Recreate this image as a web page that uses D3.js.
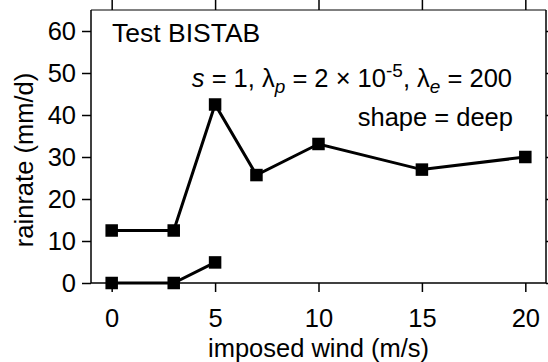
<!DOCTYPE html>
<html>
<head>
<meta charset="utf-8">
<script src="https://cdn.jsdelivr.net/npm/d3@7"></script>
<style>
  html, body { margin: 0; padding: 0; background: #fff; }
  svg { display: block; font-family: "Liberation Sans", Arial, Helvetica, sans-serif; }
</style>
</head>
<body>
<svg id="chart" width="548" height="362"></svg>
<script>
// Rain rate vs imposed wind, two branches of the BISTAB test
const windUpper = [0, 3, 5, 7, 10, 15, 20];
const rainUpper = [12.5, 12.5, 42.5, 25.7, 33.1, 27.0, 30.0];
const windLower = [0, 3, 5];
const rainLower = [0, 0, 4.9];
const xTicks = [0, 5, 10, 15, 20];
const yTicks = [0, 10, 20, 30, 40, 50, 60];

const plot = { left: 91, right: 546, top: 10, bottom: 283 };
const fontSize = 25.5;
const fontFamily = '"Liberation Sans", Arial, Helvetica, sans-serif';

const svg = d3.select("#chart");

const x = d3.scaleLinear().domain([-1, 21]).range([plot.left, plot.right]);
const y = d3.scaleLinear().domain([0, 65]).range([plot.bottom, plot.top]);

// Frame
svg.append("line").attr("x1", plot.left).attr("x2", plot.right)
  .attr("y1", plot.top).attr("y2", plot.top)
  .attr("stroke", "#000").attr("stroke-width", 1);
svg.append("line").attr("x1", plot.right).attr("x2", plot.right)
  .attr("y1", plot.top).attr("y2", plot.bottom)
  .attr("stroke", "#000").attr("stroke-width", 1.5);
svg.append("line").attr("x1", plot.left).attr("x2", plot.left)
  .attr("y1", plot.top).attr("y2", plot.bottom)
  .attr("stroke", "#000").attr("stroke-width", 1.5);
svg.append("line").attr("x1", plot.left).attr("x2", plot.right)
  .attr("y1", plot.bottom).attr("y2", plot.bottom)
  .attr("stroke", "#000").attr("stroke-width", 1.5);

function styleAxis(g) {
  g.select(".domain").remove();
  g.selectAll(".tick line").attr("stroke", "#000").attr("stroke-width", 1.5);
  g.selectAll(".tick text").attr("fill", "#000")
    .style("font-size", fontSize + "px")
    .style("font-family", fontFamily);
}

// Bottom axis
svg.append("g").attr("transform", `translate(0,${plot.bottom})`)
  .call(d3.axisBottom(x).tickValues(xTicks).tickSize(9).tickPadding(17).tickSizeOuter(0))
  .call(styleAxis);

// Top ticks, outward
svg.append("g").attr("transform", `translate(0,${plot.top})`)
  .call(d3.axisTop(x).tickValues(xTicks).tickSize(10).tickFormat("").tickSizeOuter(0))
  .call(styleAxis);

// Left axis
svg.append("g").attr("transform", `translate(${plot.left},0)`)
  .call(d3.axisLeft(y).tickValues(yTicks).tickSize(9).tickPadding(6).tickSizeOuter(0))
  .call(styleAxis);

// Right ticks, outward
svg.append("g").attr("transform", `translate(${plot.right},0)`)
  .call(d3.axisRight(y).tickValues(yTicks).tickSize(9).tickFormat("").tickSizeOuter(0))
  .call(styleAxis);

// Axis titles
svg.append("text")
  .attr("x", x(10)).attr("y", 357)
  .attr("text-anchor", "middle")
  .style("font-size", fontSize + "px")
  .text("imposed wind (m/s)");

svg.append("text")
  .attr("transform", `translate(33,160) rotate(-90)`)
  .attr("text-anchor", "middle")
  .style("font-size", fontSize + "px")
  .text("rainrate (mm/d)");

// Series
const line = d3.line().x(d => x(d[0])).y(d => y(d[1]));
const upper = windUpper.map((w, i) => [w, rainUpper[i]]);
const lower = windLower.map((w, i) => [w, rainLower[i]]);
const marker = 12.5;

[upper, lower].forEach(series => {
  svg.append("path").datum(series)
    .attr("d", line)
    .attr("fill", "none")
    .attr("stroke", "#000")
    .attr("stroke-width", 3);
  svg.selectAll(null).data(series).enter().append("rect")
    .attr("x", d => x(d[0]) - marker / 2)
    .attr("y", d => y(d[1]) - marker / 2)
    .attr("width", marker).attr("height", marker)
    .attr("fill", "#000");
});

// Annotations
svg.append("text")
  .attr("x", 112).attr("y", 42)
  .style("font-size", "26.5px")
  .text("Test BISTAB");

const params = svg.append("text")
  .attr("x", 512).attr("y", 87)
  .attr("text-anchor", "end")
  .style("font-size", fontSize + "px");
const sub = 19;
params.append("tspan").style("font-style", "italic").text("s");
params.append("tspan").text(" = 1, \u03bb");
params.append("tspan").style("font-style", "italic").style("font-size", sub + "px").attr("dy", 6).text("p");
params.append("tspan").attr("dy", -6).text(" = 2 \u00d7 10");
params.append("tspan").style("font-size", sub + "px").attr("dy", -10).text("-5");
params.append("tspan").attr("dy", 10).text(", \u03bb");
params.append("tspan").style("font-style", "italic").style("font-size", sub + "px").attr("dy", 6).text("e");
params.append("tspan").attr("dy", -6).text(" = 200");

svg.append("text")
  .attr("x", 513).attr("y", 126)
  .attr("text-anchor", "end")
  .style("font-size", fontSize + "px")
  .text("shape = deep");
</script>
</body>
</html>
